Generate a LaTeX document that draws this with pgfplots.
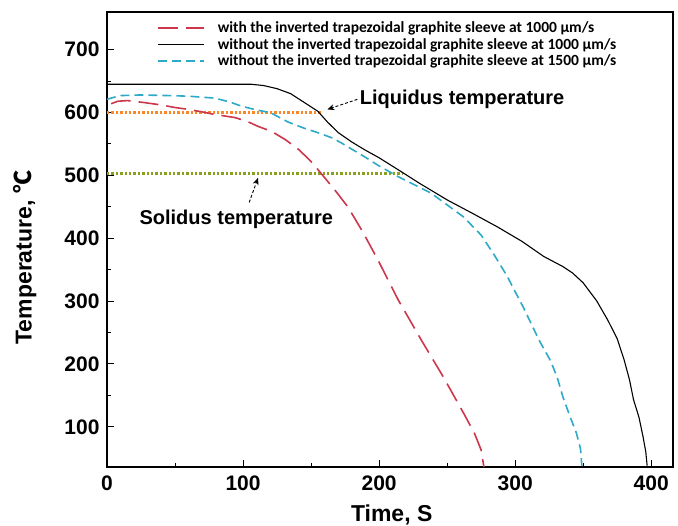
\documentclass[border=0pt]{standalone}
\usepackage{pgfplots}
\pgfplotsset{compat=1.18}
\usepackage{fontspec}
\setmainfont{Liberation Sans}
\newfontfamily\legfont{Carlito}
\newfontfamily\cjk{Noto Sans CJK SC}
\usetikzlibrary{arrows.meta}

\definecolor{redc}{RGB}{205,55,75}
\definecolor{cyanc}{RGB}{45,170,200}
\definecolor{orangec}{RGB}{250,135,40}
\definecolor{greenc}{RGB}{135,160,30}

\begin{document}
\begin{tikzpicture}
\begin{axis}[
    scale only axis,
    width=566pt, height=455pt,
    xmin=0, xmax=416,
    ymin=36, ymax=760,
    xtick={0,100,...,400},
    ytick={100,200,...,700},
    minor x tick num=1,
    minor y tick num=1,
    tick pos=left,
    tick align=inside,
    major tick length=7pt,
    minor tick length=4pt,
    every tick/.style={black, line width=1pt},
    axis line style={line width=1.2pt},
    tick label style={font=\fontsize{21}{24}\selectfont\bfseries},
    xticklabel style={yshift=-5pt},
    yticklabel style={xshift=-4pt},
    /pgf/number format/assume math mode=true,
    xlabel={Time, S},
    ylabel={Temperature, {\cjk ℃}},
    label style={font=\fontsize{23}{26}\selectfont\bfseries},
    xlabel style={at={(axis description cs:0.503,-0.105)}, anchor=center},
    ylabel style={at={(axis description cs:-0.145,0.46)}, anchor=center},
    clip=false,
    legend style={draw=none, fill=none,
        at={(axis description cs:0.083,0.985)}, anchor=north west,
        font=\legfont\fontsize{15.5}{18}\selectfont\bfseries,
        nodes={inner sep=1pt},
        row sep=2pt,
        /tikz/every odd column/.append style={column sep=12pt}},
    legend cell align=left,
    legend image code/.code={\draw[#1] (0pt,0pt) -- (46pt,0pt);},
]
\coordinate (bl) at (rel axis cs:0,0);
\coordinate (tr) at (rel axis cs:1,1);

% reference lines
\addplot[orangec, line width=2.4pt, dotted, forget plot] coordinates {(0,600) (157,600)};
\addplot[greenc, line width=2.4pt, dotted, forget plot] coordinates {(0,503) (217,503)};

% with sleeve, 1000 um/s
\addplot[redc, line width=1.6pt, dash pattern=on 20pt off 8pt] coordinates {
(3,614) (8,618) (15,619) (27,616) (40,612) (50,608) (60,605) (70,601)
(79,597) (94,592) (103,586) (111,578) (121,570) (131,557) (141,541)
(151,520) (157,504) (167,478) (177,450) (188,410) (199,366) (214,302)
(231,238) (247,180) (262,122) (270,90) (275,63) (277,36)
};
\addlegendentry{with the inverted trapezoidal graphite sleeve at 1000 µm/s}

% without sleeve, 1000 um/s
\addplot[black, line width=1.1pt] coordinates {
(0,645) (50,645) (100,645) (106,645) (115,643) (125,638) (135,630)
(145,616) (155,602) (162,585) (170,568) (180,553) (190,540) (200,528)
(214,509) (230,487) (250,461) (270,438) (287,418) (305,395) (321,371)
(335,355) (342,345) (350,329) (360,300) (368,270) (375,240) (380,207)
(384,175) (387,143) (391,115) (394,84) (396,60) (397,38)
};
\addlegendentry{without the inverted trapezoidal graphite sleeve at 1000 µm/s}

% without sleeve, 1500 um/s
\addplot[cyanc, line width=1.6pt, dash pattern=on 9pt off 5pt] coordinates {
(0,621) (3,623) (10,627) (25,628) (45,627) (60,626) (79,623) (90,617)
(99,610) (110,604) (120,600) (133,585) (145,575) (155,568) (165,560)
(172,552) (189,530) (200,515) (214,498) (238,472) (262,434) (275,405)
(285,372) (294,340) (306,290) (318,236) (326,205) (331,178)
(335,148) (340,118) (345,90) (348,65) (349,38)
};
\addlegendentry{without the inverted trapezoidal graphite sleeve at 1500 µm/s}

% annotations
\draw[-{Stealth[length=7pt,width=6pt]}, densely dashed, line width=0.9pt]
    (axis cs:184,621) -- (axis cs:162,605);
\node[anchor=west, font=\fontsize{20}{22}\selectfont\bfseries, inner sep=1pt]
    at (axis cs:185,621) {Liquidus temperature};
\draw[-{Stealth[length=7pt,width=6pt]}, densely dashed, line width=0.9pt]
    (axis cs:104.5,457) -- (axis cs:111,496);
\node[font=\fontsize{20}{22}\selectfont\bfseries]
    at (axis cs:95,430) {Solidus temperature};
\end{axis}
\pgfresetboundingbox
\path ([shift={(-107pt,-59pt)}]bl) rectangle ([shift={(5pt,12pt)}]tr);
\end{tikzpicture}
\end{document}
